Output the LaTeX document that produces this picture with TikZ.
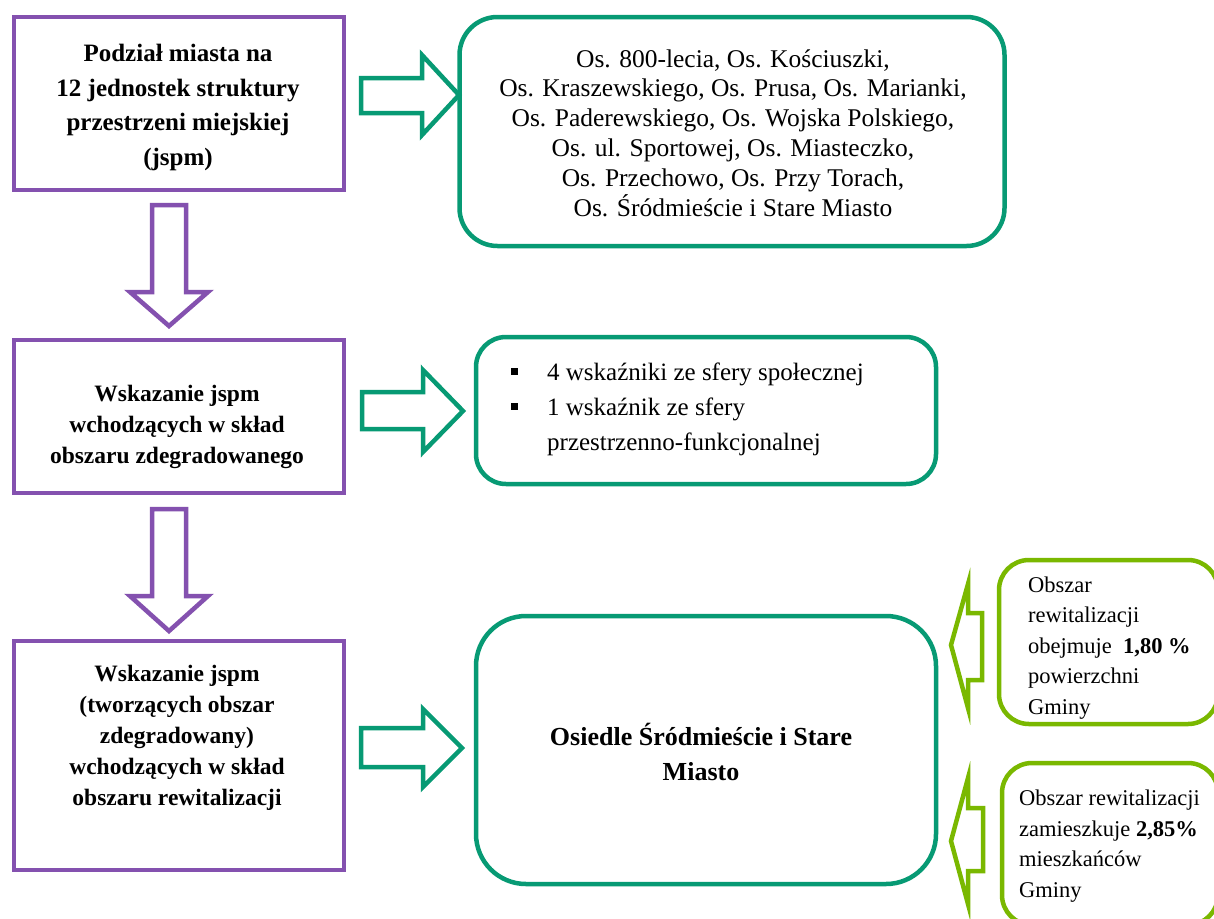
\documentclass[tikz,border=0pt]{standalone}
\usepackage{fontspec}
\setmainfont{Liberation Serif}
\definecolor{purp}{HTML}{8451AF}
\definecolor{teal}{HTML}{079A74}
\definecolor{limeg}{HTML}{7AB800}
\newcommand{\sqbul}{\makebox[36pt][l]{\raisebox{5pt}{\rule{7pt}{7pt}}}}
\tikzset{
  pbox/.style={draw=purp, line width=4.5pt, rectangle, inner sep=0pt, fill=white},
  gbox/.style={draw=teal, line width=4.5pt, rectangle, rounded corners=#1, inner sep=0pt, fill=white},
  lbox/.style={draw=limeg, line width=4.5pt, rectangle, rounded corners=30pt, inner sep=0pt, fill=white},
  parrow/.style={draw=purp, line width=4.5pt, fill=white, line join=miter},
  garrow/.style={draw=teal, line width=4.5pt, fill=white, line join=miter},
  larrow/.style={draw=limeg, line width=4.5pt, fill=white, line join=miter},
  btxt/.style={align=center, inner sep=0pt, font=\fontsize{25}{34.5}\selectfont\bfseries},
  btxtb/.style={align=center, inner sep=0pt, font=\fontsize{23.5}{31}\selectfont\bfseries},
  ntxt/.style={align=center, inner sep=0pt, font=\fontsize{25.5}{29.8}\selectfont},
  ltxt/.style={align=left, inner sep=0pt, font=\fontsize{22.5}{30.5}\selectfont},
}
\begin{document}
\begin{tikzpicture}[x=1pt, y=-1pt]
\useasboundingbox[fill=white] (0,0) rectangle (1214,918);

% purple boxes
\node[pbox, minimum width=330pt, minimum height=173pt] (b1) at (179,103.5) {};
\node[pbox, minimum width=330pt, minimum height=153pt] (b2) at (179,416.5) {};
\node[pbox, minimum width=330pt, minimum height=229pt] (b3) at (179,755.5) {};

% green boxes
\node[gbox=38pt, minimum width=545pt, minimum height=229pt] (g1) at (732,131.5) {};
\node[gbox=30pt, minimum width=460pt, minimum height=147pt] (g2) at (706,410.5) {};
\node[gbox=50pt, minimum width=460pt, minimum height=268pt] (g3) at (706,750) {};

% lime boxes
\node[lbox, minimum width=219pt, minimum height=164pt] (l1) at (1108.5,642) {};
\node[lbox, minimum width=216pt, minimum height=162pt] (l2) at (1110,844) {};

% purple down arrows
\draw[parrow] (152,205) -- (186,205) -- (186,292) -- (208,292) -- (169,326) -- (130,292) -- (152,292) -- cycle;
\draw[parrow] (152,509) -- (186,509) -- (186,596) -- (208,596) -- (169,631) -- (130,596) -- (152,596) -- cycle;

% green right arrows
\draw[garrow] (361,78) -- (422,78) -- (422,55) -- (459,95) -- (422,135) -- (422,113) -- (361,113) -- cycle;
\draw[garrow] (362,392) -- (423,392) -- (423,370) -- (463,411) -- (423,452) -- (423,429) -- (362,429) -- cycle;
\draw[garrow] (361,728) -- (423,728) -- (423,709) -- (462,748) -- (423,787) -- (423,767) -- (361,767) -- cycle;

% lime left arrows
\draw[larrow] (951,645) -- (968,584) -- (968,613) -- (982,613) -- (982,680) -- (968,680) -- (968,708) -- cycle;
\draw[larrow] (951,841) -- (968,778) -- (968,808) -- (983,808) -- (983,871) -- (968,871) -- (968,904) -- cycle;

% texts
\node[btxt] (t1) at (178,107.5) {Podział miasta na\\12 jednostek struktury\\przestrzeni miejskiej\\(jspm)};
\node[btxtb] (t2) at (177,427) {Wskazanie jspm\\wchodzących w skład\\obszaru zdegradowanego};
\node[btxtb] (t3) at (177,738) {Wskazanie jspm\\(tworzących obszar\\zdegradowany)\\wchodzących w skład\\obszaru rewitalizacji};

\node[ntxt] (t4) at (733,133) {Os. 800-lecia, Os. Kościuszki,\\Os. Kraszewskiego, Os. Prusa, Os. Marianki,\\Os. Paderewskiego, Os. Wojska Polskiego,\\Os. ul. Sportowej, Os. Miasteczko,\\Os. Przechowo, Os. Przy Torach,\\Os. Śródmieście i Stare Miasto};

\node[align=left, inner sep=0pt, anchor=west, font=\fontsize{25}{35}\selectfont] (t5) at (511,409) {\sqbul 4 wskaźniki ze sfery społecznej\\\sqbul 1 wskaźnik ze sfery\\\hspace*{36pt}przestrzenno-funkcjonalnej};

\node[align=center, inner sep=0pt, font=\fontsize{26}{35}\selectfont\bfseries] (t6) at (701,751.5) {Osiedle Śródmieście i Stare\\Miasto};

\node[ltxt, anchor=west] (t7) at (1028,648) {Obszar\\rewitalizacji\\obejmuje \ \textbf{1,80 \%}\\powierzchni\\Gminy};
\node[ltxt, anchor=west] (t8) at (1019,846) {Obszar rewitalizacji\\zamieszkuje \textbf{2,85\%}\\mieszkańców\\Gminy};
\end{tikzpicture}
\end{document}
